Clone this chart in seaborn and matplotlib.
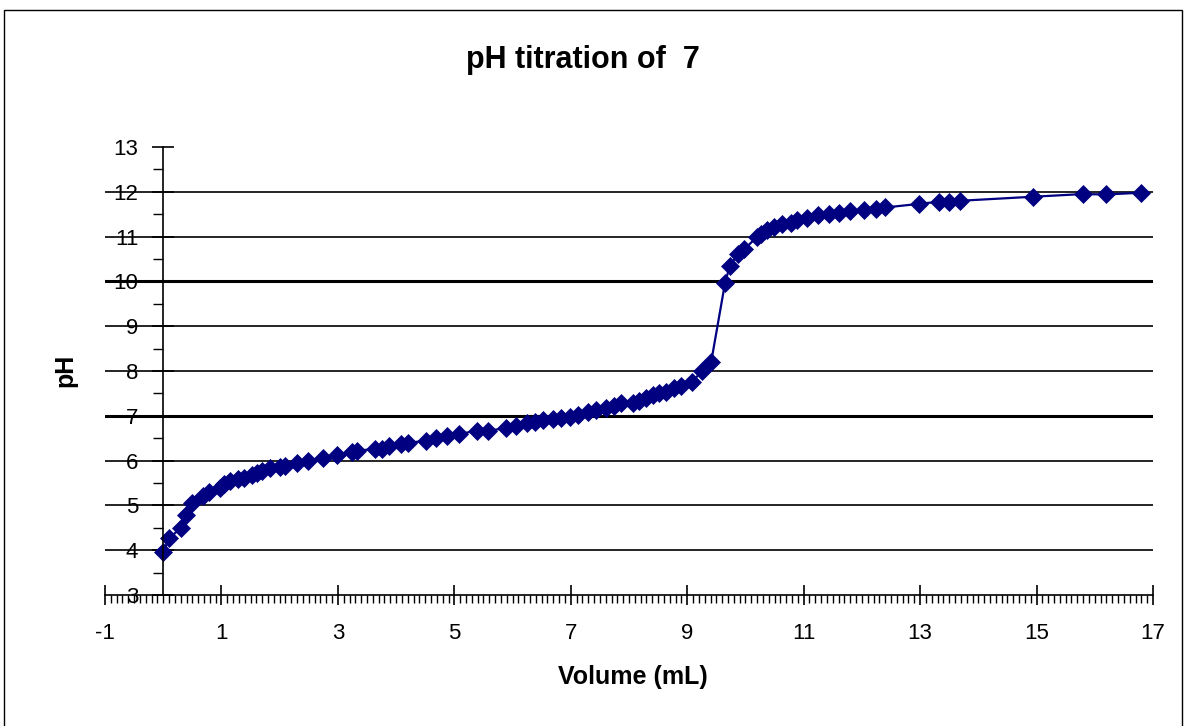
import matplotlib
matplotlib.use("Agg")
import matplotlib.pyplot as plt
from matplotlib.patches import Rectangle
from matplotlib.ticker import MultipleLocator
import numpy as np
import pandas as pd
import seaborn as sns

# Titration readings: volume of titrant added (mL) and measured pH
volume_ml = [0.00, 0.10, 0.30, 0.39, 0.49, 0.69, 0.78, 0.98, 1.05, 1.14,
             1.29, 1.39, 1.52, 1.61, 1.69, 1.84, 2.01, 2.09, 2.29, 2.49,
             2.74, 2.98, 3.24, 3.32, 3.64, 3.75, 3.88, 4.09, 4.21, 4.51,
             4.69, 4.88, 5.08, 5.39, 5.58, 5.88, 6.06, 6.24, 6.38, 6.52,
             6.70, 6.84, 6.98, 7.12, 7.30, 7.44, 7.61, 7.74, 7.87, 8.07,
             8.18, 8.30, 8.41, 8.52, 8.64, 8.78, 8.90, 9.09, 9.25, 9.41,
             9.65, 9.73, 9.87, 9.98, 10.19, 10.27, 10.37, 10.49, 10.62, 10.78,
             10.88, 11.05, 11.24, 11.44, 11.60, 11.80, 12.04, 12.24, 12.40, 12.98,
             13.33, 13.49, 13.69, 14.94, 15.80, 16.19, 16.80]
ph_values = [3.96, 4.27, 4.49, 4.79, 5.06, 5.21, 5.31, 5.38, 5.48, 5.54,
             5.60, 5.62, 5.68, 5.73, 5.77, 5.83, 5.85, 5.87, 5.95, 6.00,
             6.05, 6.12, 6.20, 6.21, 6.27, 6.27, 6.33, 6.37, 6.40, 6.44,
             6.50, 6.55, 6.59, 6.67, 6.67, 6.72, 6.77, 6.83, 6.87, 6.91,
             6.92, 6.94, 6.97, 7.02, 7.09, 7.13, 7.17, 7.22, 7.28, 7.28,
             7.34, 7.39, 7.46, 7.52, 7.54, 7.61, 7.67, 7.76, 8.00, 8.19,
             9.97, 10.34, 10.61, 10.72, 10.98, 11.06, 11.15, 11.21, 11.29, 11.31,
             11.37, 11.42, 11.48, 11.51, 11.53, 11.58, 11.60, 11.62, 11.65, 11.73,
             11.78, 11.78, 11.80, 11.89, 11.95, 11.94, 11.98]

x_ticks = [-1, 1, 3, 5, 7, 9, 11, 13, 15, 17]
y_ticks = [3, 4, 5, 6, 7, 8, 9, 10, 11, 12, 13]

title_text = "pH titration of  7"
x_label = "Volume (mL)"
y_label = "pH"

sns.set_style("white")
plt.rcParams["font.family"] = ["Liberation Sans", "DejaVu Sans"]
plt.rcParams["text.color"] = "black"
plt.rcParams["axes.labelcolor"] = "black"
plt.rcParams["xtick.color"] = "black"
plt.rcParams["ytick.color"] = "black"
plt.rcParams["axes.unicode_minus"] = False

df = pd.DataFrame({"volume": volume_ml, "ph": ph_values})

fig = plt.figure(figsize=(11.86, 7.26), dpi=100)
ax = fig.add_axes([105 / 1186, 1 - 595 / 726, 1048 / 1186, 448 / 726])

navy = "#000080"
sns.lineplot(data=df, x="volume", y="ph", ax=ax, sort=False, color=navy,
             linewidth=1.6, marker="D", markersize=9.5,
             markerfacecolor=navy, markeredgecolor=navy, markeredgewidth=0.5)

ax.set_xlim(-1, 17)
ax.set_ylim(3, 13)
ax.set_xticks(x_ticks)
ax.set_yticks(y_ticks)
ax.xaxis.set_minor_locator(MultipleLocator(0.1))
ax.yaxis.set_minor_locator(MultipleLocator(0.5))

# Y axis crosses at zero volume; only left and bottom axis lines shown
ax.spines["left"].set_position(("data", 0))
for side in ("top", "right"):
    ax.spines[side].set_visible(False)
for side in ("left", "bottom"):
    ax.spines[side].set_color("black")
    ax.spines[side].set_linewidth(1.2)

ax.tick_params(axis="x", which="major", direction="inout", length=14, width=1.2,
               labelsize=16, pad=13, colors="black", bottom=True)
ax.tick_params(axis="x", which="minor", direction="out", length=6, width=1,
               colors="black", bottom=True)
ax.tick_params(axis="y", which="major", direction="inout", length=16, width=1.2,
               labelsize=16, pad=10, colors="black", left=True)
ax.tick_params(axis="y", which="minor", direction="out", length=7, width=1,
               colors="black", left=True)

# Horizontal gridlines at each whole pH unit
ax.grid(axis="y", which="major", color="black", linewidth=1.2)
ax.grid(axis="x", visible=False)
for val, gl in zip(ax.get_yticks(), ax.yaxis.get_gridlines()):
    if val in (3, 13):
        gl.set_visible(False)
    elif val in (7, 10):
        gl.set_linewidth(2.2)

ax.set_xlabel(x_label, fontsize=18, fontweight="bold", va="center")
ax.xaxis.set_label_coords(0.504, -0.183)
ax.set_ylabel(y_label, fontsize=18, fontweight="bold", va="center", ha="center")
ax.yaxis.set_label_coords(-0.038, 0.502)

fig.text(583 / 1186, 1 - 60 / 726, title_text, fontsize=22, fontweight="bold",
         ha="center", va="center")

# Outer chart frame
fig.patches.append(Rectangle((4 / 1186, -0.05), 1178 / 1186, 1 - 10 / 726 + 0.05,
                             transform=fig.transFigure, fill=False,
                             edgecolor="black", linewidth=1))

fig.savefig("out.png", dpi=100, facecolor="white")
